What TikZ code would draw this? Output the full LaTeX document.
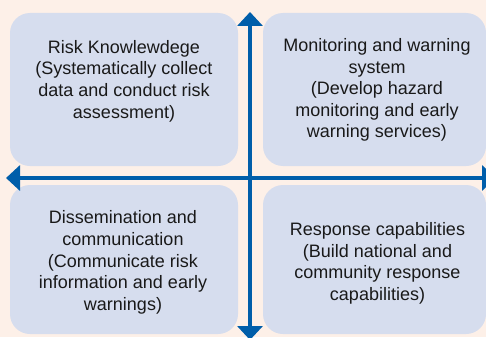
\documentclass[tikz,border=0pt]{standalone}
\usepackage{fontspec}
\setmainfont{Liberation Sans}
\usetikzlibrary{arrows.meta,positioning}
\definecolor{PaperPeach}{RGB}{253, 240, 232}
\definecolor{BoxLilac}{RGB}{214, 221, 238}
\definecolor{AxisBlue}{RGB}{0, 94, 170}

\begin{document}
\begin{tikzpicture}[x=1pt, y=-1pt,
    quad/.style={fill=BoxLilac, rounded corners=20pt, inner sep=0pt,
      minimum width=228pt},
    quadtext/.style={align=center, inner sep=0pt, text=black!90,
      font=\fontsize{18pt}{21.6pt}\selectfont},
    axis/.style={draw=AxisBlue, line width=4pt,
      {Triangle[width=25pt,length=14pt]}-{Triangle[width=25pt,length=14pt]}}]
    \useasboundingbox (0,0) rectangle (486,337);
    \fill[PaperPeach] (0,0) rectangle (486,337);
    \clip (0,0) rectangle (486,337);
    % the four quadrants
    \node[quad, minimum height=153pt] (know) at (124,89.5) {};
    \node[quad, minimum height=153pt, minimum width=223pt] (warn) at (374.5,89.5) {};
    \node[quad, minimum height=149pt] (diss) at (124,259.5) {};
    \node[quad, minimum height=149pt, minimum width=223pt] (resp) at (374.5,259.5) {};
    \node[quadtext] (knowtext) at (124,81) {Risk Knowlewdege\\(Systematically collect\\data and conduct risk\\assessment)};
    \node[quadtext] (warntext) at (377,90) {Monitoring and warning\\system\\(Develop hazard\\monitoring and early\\warning services)};
    \node[quadtext] (disstext) at (123,262.5) {Dissemination and\\communication\\(Communicate risk\\information and early\\warnings)};
    \node[quadtext] (resptext) at (377.5,263.5) {Response capabilities\\(Build national and\\community response\\capabilities)};
    % axes
    \coordinate (north) at (250,12);
    \coordinate (south) at (250,340);
    \coordinate (west) at (6,178);
    \coordinate (east) at (496,178);
    \draw[axis] (south) -- (north);
    \draw[axis] (west) -- (east);
  \end{tikzpicture}
\end{document}
